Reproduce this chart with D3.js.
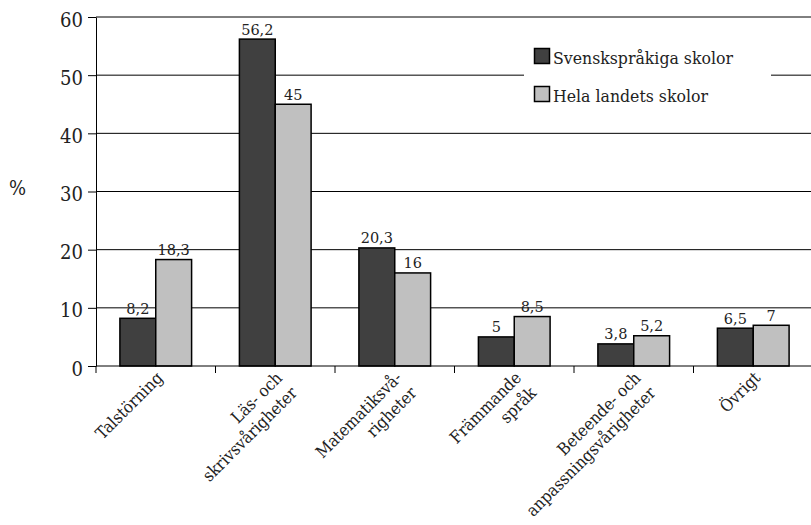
<!DOCTYPE html>
<html>
<head>
<meta charset="utf-8">
<script src="https://cdn.jsdelivr.net/npm/d3@7"></script>
<style>
  html, body { margin: 0; padding: 0; background: #fff; }
  svg { display: block; font-family: "DejaVu Serif", serif; }
  .cond { font-family: "DejaVu Serif Condensed", "DejaVu Serif", serif; font-stretch: condensed; }
</style>
</head>
<body>
<svg id="chart" width="811" height="525"></svg>
<script>
// Kategorier (radbrytningar markerade med \n)
const categories = [
  "Talstörning",
  "Läs- och\nskrivsvårigheter",
  "Matematiksvå-\nrigheter",
  "Främmande\nspråk",
  "Beteende- och\nanpassningsvårigheter",
  "Övrigt"
];
const seriesNames = ["Svenskspråkiga skolor", "Hela landets skolor"];
const svenskspråkiga = [8.2, 56.2, 20.3, 5, 3.8, 6.5];
const helaLandet = [18.3, 45, 16, 8.5, 5.2, 7];
const yTicks = [0, 10, 20, 30, 40, 50, 60];
const colors = ["#404040", "#c0c0c0"];

const svg = d3.select("#chart");
const plotLeft = 96, plotRight = 813, plotTop = 17, plotBottom = 366;

const x = d3.scaleBand().domain(categories).range([plotLeft, plotRight]);
const y = d3.scaleLinear().domain([0, 60]).range([plotBottom, plotTop]);
const groupWidth = x.bandwidth() * 0.6;
const xs = d3.scaleBand().domain(seriesNames).range([0, groupWidth]);

// Stödlinjer
svg.append("g").selectAll("line")
  .data(yTicks.filter(d => d > 0))
  .join("line")
  .attr("x1", plotLeft).attr("x2", 811)
  .attr("y1", d => y(d)).attr("y2", d => y(d))
  .attr("stroke", "#000").attr("stroke-width", 1);

// Y-axel
const yAxis = d3.axisLeft(y).tickValues(yTicks).tickSize(8).tickSizeOuter(0);
const gy = svg.append("g").attr("transform", `translate(${plotLeft},0)`).call(yAxis);
gy.select(".domain").attr("stroke", "#000");
gy.selectAll(".tick line").attr("stroke", "#000");
gy.selectAll(".tick text")
  .attr("class", "cond")
  .attr("font-family", null)
  .attr("font-size", 20)
  .attr("fill", "#222")
  .attr("x", -13)
  .attr("dy", "0.45em");

svg.append("text")
  .attr("class", "cond")
  .attr("x", 17.5).attr("y", 195)
  .attr("text-anchor", "middle")
  .attr("font-size", 20).attr("fill", "#222")
  .text("%");

// Förklaring (vit bakgrund över stödlinjen)
const lg = svg.append("g");
lg.append("rect").attr("x", 524).attr("y", 35).attr("width", 247).attr("height", 80).attr("fill", "#fff");
seriesNames.forEach((name, i) => {
  const yy = 48 + i * 38;
  lg.append("rect").attr("x", 534.5).attr("y", yy + 0.5).attr("width", 15).attr("height", 15)
    .attr("fill", colors[i]).attr("stroke", "#000").attr("stroke-width", 1.5);
  lg.append("text").attr("class", "cond").attr("x", 553).attr("y", yy + 15.5)
    .attr("font-size", 17.5).attr("fill", "#222").text(name);
});

// Staplar
const data = categories.map((c, i) => ({ c, vals: [svenskspråkiga[i], helaLandet[i]] }));
const groups = svg.append("g").selectAll("g")
  .data(data).join("g")
  .attr("transform", d => `translate(${x(d.c) + (x.bandwidth() - groupWidth) / 2},0)`);

groups.selectAll("rect")
  .data(d => d.vals.map((v, j) => ({ v, s: seriesNames[j], j })))
  .join("rect")
  .attr("x", d => xs(d.s))
  .attr("y", d => y(d.v))
  .attr("width", xs.bandwidth())
  .attr("height", d => y(0) - y(d.v))
  .attr("fill", d => colors[d.j])
  .attr("stroke", "#000").attr("stroke-width", 1.5);

const fmt = v => String(v).replace(".", ",");
groups.selectAll("text.val")
  .data(d => d.vals.map((v, j) => ({ v, s: seriesNames[j], j })))
  .join("text")
  .attr("class", "val")
  .attr("x", d => xs(d.s) + xs.bandwidth() / 2)
  .attr("y", d => y(d.v) - 4.5)
  .attr("text-anchor", "middle")
  .attr("font-size", 14.5).attr("fill", "#222")
  .text(d => fmt(d.v));

// X-axel
svg.append("line").attr("x1", plotLeft).attr("x2", 811).attr("y1", plotBottom).attr("y2", plotBottom)
  .attr("stroke", "#000").attr("stroke-width", 1);
const tickPositions = d3.range(categories.length).map(i => plotLeft + i * x.step());
svg.append("g").selectAll("line")
  .data(tickPositions).join("line")
  .attr("x1", d => d).attr("x2", d => d)
  .attr("y1", plotBottom).attr("y2", plotBottom + 7)
  .attr("stroke", "#000");

// Kategorietiketter, roterade -45°, högerställda rader
const lab = svg.append("g").selectAll("text")
  .data(categories).join("text")
  .attr("class", "cond")
  .attr("transform", d => `translate(${x(d) + x.bandwidth() / 2 + 8},${plotBottom + 13}) rotate(-45)`)
  .attr("text-anchor", "end")
  .attr("font-size", 16.8).attr("fill", "#222");
lab.each(function(d) {
  const lines = d.split("\n");
  d3.select(this).selectAll("tspan").data(lines).join("tspan")
    .attr("x", 0)
    .attr("dy", (l, i) => i === 0 ? 0 : "1.26em")
    .text(l => l);
});
</script>
</body>
</html>
